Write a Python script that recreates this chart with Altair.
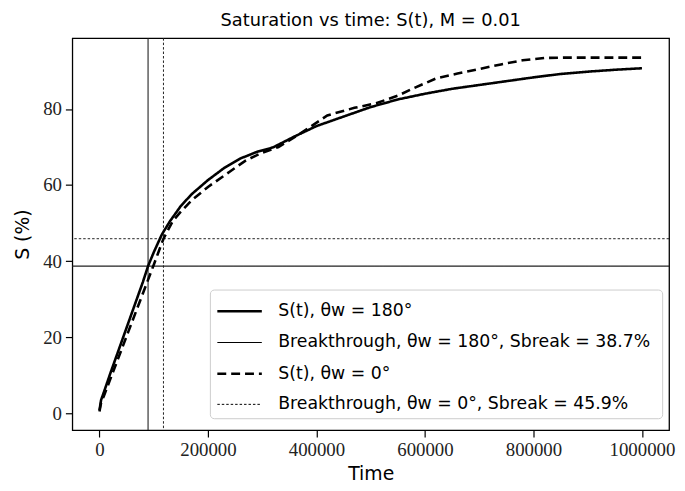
import altair as alt
import pandas as pd

# Saturation curve, theta_w = 180 deg (solid)
t_180 = [0, 3000, 8000, 20000, 40000, 60000, 80000, 89600, 100000, 115000, 130000,
         150000, 170000, 200000, 230000, 260000, 290000, 320000, 360000, 400000,
         450000, 500000, 550000, 600000, 650000, 700000, 750000, 800000, 850000,
         900000, 950000, 1000000]
s_180 = [0.8, 3.5, 5.5, 10.5, 18.5, 26.5, 34.5, 38.7, 42.3, 47.0, 50.5,
         54.5, 57.6, 61.3, 64.5, 67.0, 68.7, 69.9, 72.8, 75.5,
         78.0, 80.5, 82.5, 84.0, 85.3, 86.3, 87.3, 88.3, 89.2,
         89.8, 90.3, 90.7]

# Saturation curve, theta_w = 0 deg (dashed)
t_0 = [0, 3000, 8000, 20000, 40000, 60000, 80000, 100000, 118000, 135000, 150000,
       170000, 200000, 240000, 270000, 300000, 330000, 370000, 420000, 470000,
       510000, 550000, 580000, 620000, 660000, 700000, 740000, 780000, 820000,
       860000, 900000, 950000, 1000000]
s_0 = [0.5, 2.8, 4.5, 9.0, 16.5, 24.0, 31.5, 39.0, 45.9, 50.5, 53.0,
       56.0, 59.5, 63.5, 66.5, 68.5, 70.0, 73.5, 78.3, 80.3,
       81.5, 83.5, 85.5, 88.0, 89.3, 90.5, 91.7, 92.8, 93.4,
       93.5, 93.5, 93.5, 93.5]

# Breakthrough times and saturations
break_t = [89600, 118000]
break_s = [38.7, 45.9]

labels = [
    "S(t),  θw = 180°",
    "Breakthrough, θw = 180°,  Sbreak = 38.7%",
    "S(t),  θw = 0°",
    "Breakthrough, θw = 0°,  Sbreak = 45.9%",
]

curves = pd.concat([
    pd.DataFrame({"t": t_180, "S": s_180, "series": labels[0]}),
    pd.DataFrame({"t": t_0, "S": s_0, "series": labels[2]}),
])
breaks = pd.DataFrame({"t": break_t, "S": break_s, "series": [labels[1], labels[3]]})

dash_scale = alt.Scale(domain=labels, range=[[1, 0], [1, 0], [9, 5], [2.5, 2]])
width_scale = alt.Scale(type="ordinal", domain=labels, range=[2.6, 1.1, 2.6, 1.0])
legend = alt.Legend(
    title=None, orient="none", legendX=139, legendY=254,
    symbolSize=961, symbolStrokeColor="black", symbolType="M-1.45,0H1.45",
    symbolOffset=8,
    labelFont="DejaVu Sans", labelFontSize=17.5, labelLimit=600,
    labelOffset=22, rowPadding=6, padding=5,
    strokeColor="#cccccc", fillColor="rgba(255,255,255,0.85)", cornerRadius=4,
)

xscale = alt.Scale(domain=[-50000, 1050000], nice=False, zero=False)
yscale = alt.Scale(domain=[-4.4, 98.6], nice=False, zero=False)

xaxis = alt.Axis(title="Time", values=[0, 200000, 400000, 600000, 800000, 1000000],
                 format="d", grid=False)
yaxis = alt.Axis(title="S (%)", values=[0, 20, 40, 60, 80], grid=False)

lines = alt.Chart(curves).mark_line(color="black", clip=True).encode(
    x=alt.X("t:Q", scale=xscale, axis=xaxis),
    y=alt.Y("S:Q", scale=yscale, axis=yaxis),
    strokeDash=alt.StrokeDash("series:N", scale=dash_scale, legend=legend),
    strokeWidth=alt.StrokeWidth("series:N", scale=width_scale, legend=legend),
)

vrules = alt.Chart(breaks).mark_rule(color="#222222").encode(
    x=alt.X("t:Q", scale=xscale),
    strokeDash=alt.StrokeDash("series:N", scale=dash_scale, legend=legend),
    strokeWidth=alt.StrokeWidth("series:N", scale=width_scale, legend=legend),
)
hrules = alt.Chart(breaks).mark_rule(color="#222222").encode(
    y=alt.Y("S:Q", scale=yscale),
    strokeDash=alt.StrokeDash("series:N", scale=dash_scale, legend=legend),
    strokeWidth=alt.StrokeWidth("series:N", scale=width_scale, legend=legend),
)

chart = alt.layer(vrules, hrules, lines).properties(
    width=603, height=396,
    autosize=alt.AutoSizeParams(type="none"),
    padding={"left": 65, "top": 28, "right": 8, "bottom": 55},
    title=alt.TitleParams(
        "Saturation vs time: S(t), M = 0.01",
        font="DejaVu Sans", fontSize=18, fontWeight="normal", color="black",
        anchor="middle", offset=8,
    ),
).configure_view(
    stroke="black", strokeWidth=1.3,
).configure_axis(
    domain=False, tickColor="black", tickSize=7, tickWidth=1.2,
    labelFont="Liberation Serif", labelFontSize=19, labelColor="#222222", labelPadding=4,
    titleFont="DejaVu Sans", titleFontSize=19, titleFontWeight="normal", titleColor="black",
).configure_axisY(titlePadding=10).configure_axisX(titlePadding=5)

chart.save("out.html", embed_options={"renderer": "svg", "actions": False})
